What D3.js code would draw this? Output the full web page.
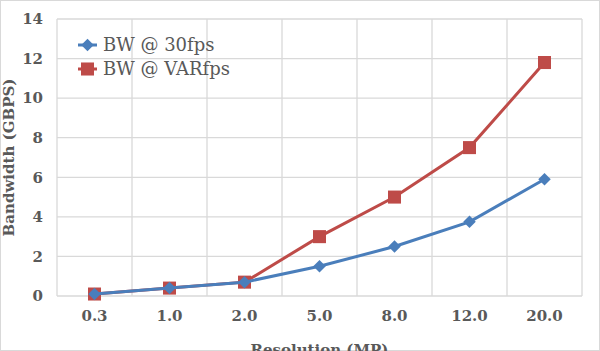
<!DOCTYPE html>
<html>
<head>
<meta charset="utf-8">
<script src="https://cdn.jsdelivr.net/npm/d3@7"></script>
<style>
  body { margin: 0; background: #fff; }
  svg text { font-family: "DejaVu Serif", "Liberation Serif", serif; fill: #595959; }
</style>
</head>
<body>
<div id="chart"></div>
<script>
// chart data
const resolutions = ['0.3', '1.0', '2.0', '5.0', '8.0', '12.0', '20.0'];
const bw30 = [0.1, 0.4, 0.7, 1.5, 2.5, 3.75, 5.9];
const bwVar = [0.1, 0.4, 0.7, 3.0, 5.0, 7.5, 11.8];
const yTicks = [0, 2, 4, 6, 8, 10, 12, 14];
const seriesNames = ['BW @ 30fps', 'BW @ VARfps'];

const W = 600, H = 351;
const margin = {top: 19, right: 18, bottom: 55, left: 57};

const svg = d3.select('#chart').append('svg')
    .attr('width', W)
    .attr('height', H);

// outer chart border
svg.append('rect')
    .attr('x', 0.5).attr('y', 0.5)
    .attr('width', W - 1).attr('height', H - 1)
    .attr('fill', 'none')
    .attr('stroke', '#d9d9d9');

const x = d3.scaleBand()
    .domain(resolutions)
    .range([margin.left, W - margin.right]);
const y = d3.scaleLinear()
    .domain([0, 14])
    .range([H - margin.bottom, margin.top]);

// gridlines
svg.append('g')
    .selectAll('line')
    .data(yTicks)
    .join('line')
    .attr('x1', margin.left).attr('x2', W - margin.right)
    .attr('y1', d => y(d)).attr('y2', d => y(d))
    .attr('stroke', '#d9d9d9').attr('stroke-width', 1.3);

const bounds = resolutions.map(r => x(r)).concat([x(resolutions[resolutions.length - 1]) + x.bandwidth()]);
svg.append('g')
    .selectAll('line')
    .data(bounds)
    .join('line')
    .attr('x1', d => d).attr('x2', d => d)
    .attr('y1', y(0)).attr('y2', y(14))
    .attr('stroke', '#d9d9d9').attr('stroke-width', 1.3);

// y axis
const yAxis = svg.append('g')
    .attr('transform', `translate(${margin.left},0)`)
    .call(d3.axisLeft(y).tickValues(yTicks).tickSize(0).tickPadding(14));
yAxis.select('.domain').remove();
yAxis.selectAll('text')
    .style('font-size', '15px')
    .style('font-weight', 'bold')
    .attr('fill', '#595959');

// x axis
const xAxis = svg.append('g')
    .attr('transform', `translate(0,${y(0)})`)
    .call(d3.axisBottom(x).tickSize(0).tickPadding(14));
xAxis.select('.domain').remove();
xAxis.selectAll('text')
    .style('font-size', '15px')
    .style('font-weight', 'bold')
    .attr('fill', '#595959');

// axis titles
svg.append('text')
    .attr('transform', `translate(14,${(y(0) + y(14)) / 2}) rotate(-90)`)
    .attr('text-anchor', 'middle')
    .style('font-size', '15px')
    .style('font-weight', 'bold')
    .text('Bandwidth (GBPS)');

// the original crops this title at the bottom edge
svg.append('text')
    .attr('x', (margin.left + W - margin.right) / 2)
    .attr('y', 355)
    .attr('text-anchor', 'middle')
    .style('font-size', '15px')
    .style('font-weight', 'bold')
    .text('Resolution (MP)');

const colors = ['#4a7ebb', '#be4b48'];
const series = [bw30, bwVar];
const cx = i => x(resolutions[i]) + x.bandwidth() / 2;

const line = d3.line()
    .x((d, i) => cx(i))
    .y(d => y(d));

// square diamond = square rotated 45deg
const diamond = d3.symbol().type(d3.symbolSquare).size(78);
const square = d3.symbol().type(d3.symbolSquare).size(170);
const shapes = [diamond, square];
const rot = [45, 0];

// draw red first so blue sits on top like the original
[1, 0].forEach(s => {
    svg.append('path')
        .datum(series[s])
        .attr('fill', 'none')
        .attr('stroke', colors[s])
        .attr('stroke-width', 3)
        .attr('d', line);
    svg.append('g')
        .selectAll('path')
        .data(series[s])
        .join('path')
        .attr('transform', (d, i) => `translate(${cx(i)},${y(d)}) rotate(${rot[s]})`)
        .attr('d', shapes[s]())
        .attr('fill', colors[s]);
});

// legend
const legend = svg.append('g').attr('transform', 'translate(78,45)');
seriesNames.forEach((name, i) => {
    const g = legend.append('g').attr('transform', `translate(0,${i * 24})`);
    g.append('line')
        .attr('x1', 0).attr('x2', 19)
        .attr('stroke', colors[i]).attr('stroke-width', 3);
    g.append('path')
        .attr('transform', `translate(9.5,0) rotate(${rot[i]})`)
        .attr('d', shapes[i]())
        .attr('fill', colors[i]);
    g.append('text')
        .attr('x', 25)
        .attr('dy', '0.35em')
        .style('font-size', '18px')
        .text(name);
});
</script>
</body>
</html>
